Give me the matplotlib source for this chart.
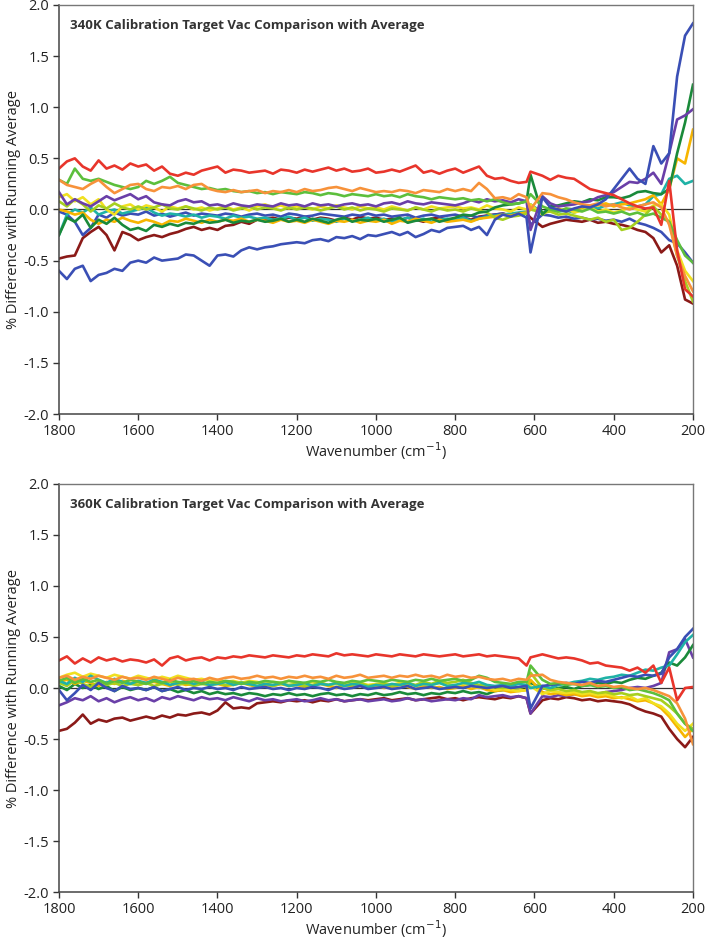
import numpy as np
import matplotlib
matplotlib.use("Agg")
import matplotlib.pyplot as plt

# wavenumber sampling (cm^-1)
wavenumber = np.r_[np.arange(1800, 619, -20), [610], np.arange(580, 199, -20)]

# ---------------- 340K panel ----------------
t340_red = [0.40, 0.47, 0.50, 0.42, 0.38, 0.48, 0.40, 0.43, 0.39, 0.45,
            0.42, 0.44, 0.38, 0.42, 0.35, 0.33, 0.36, 0.34, 0.38, 0.40,
            0.42, 0.36, 0.39, 0.38, 0.36, 0.37, 0.38, 0.35, 0.39, 0.38,
            0.36, 0.39, 0.37, 0.39, 0.41, 0.38, 0.40, 0.37, 0.38, 0.40,
            0.36, 0.37, 0.39, 0.37, 0.40, 0.43, 0.36, 0.38, 0.35, 0.38,
            0.40, 0.36, 0.39, 0.42, 0.33, 0.30, 0.31, 0.28, 0.26, 0.27,
            0.37, 0.33, 0.29, 0.33, 0.31, 0.30, 0.25, 0.20, 0.18, 0.16,
            0.14, 0.10, 0.06, 0.03, 0.01, 0.02, -0.15, 0.28, -0.40, -0.78,
            -0.85]
t340_orange = [0.29, 0.24, 0.22, 0.20, 0.25, 0.29, 0.22, 0.16, 0.20, 0.24,
               0.25, 0.20, 0.18, 0.22, 0.21, 0.23, 0.20, 0.24, 0.25, 0.20,
               0.18, 0.17, 0.19, 0.17, 0.18, 0.19, 0.16, 0.18, 0.17, 0.19,
               0.17, 0.20, 0.18, 0.19, 0.21, 0.22, 0.20, 0.18, 0.21, 0.19,
               0.17, 0.18, 0.17, 0.19, 0.18, 0.16, 0.19, 0.18, 0.17, 0.20,
               0.18, 0.20, 0.18, 0.26, 0.20, 0.11, 0.12, 0.10, 0.15, 0.12,
               0.00, 0.16, 0.15, 0.12, 0.10, 0.07, 0.05, 0.04, 0.06, 0.03,
               0.05, 0.02, 0.00, 0.03, 0.05, 0.07, 0.02, -0.15, -0.45, -0.65,
               -0.80]
t340_lgreen = [0.29, 0.25, 0.40, 0.30, 0.28, 0.30, 0.27, 0.24, 0.22, 0.20,
               0.22, 0.28, 0.25, 0.28, 0.32, 0.26, 0.24, 0.22, 0.20, 0.21,
               0.19, 0.20, 0.18, 0.17, 0.18, 0.16, 0.17, 0.15, 0.17, 0.16,
               0.15, 0.17, 0.16, 0.14, 0.16, 0.15, 0.13, 0.15, 0.14, 0.13,
               0.15, 0.13, 0.14, 0.12, 0.15, 0.13, 0.12, 0.10, 0.12, 0.11,
               0.10, 0.11, 0.09, 0.10, 0.08, 0.10, 0.07, 0.05, 0.06, 0.08,
               0.15, 0.03, 0.00, -0.02, 0.01, 0.00, -0.02, 0.01, -0.03, -0.02,
               -0.04, -0.02, -0.05, -0.03, -0.06, -0.04, -0.08, -0.12, -0.30, -0.45,
               -0.52]
t340_purple = [0.17, 0.05, 0.10, 0.06, 0.03, 0.08, 0.13, 0.09, 0.12, 0.15,
               0.10, 0.13, 0.07, 0.05, 0.04, 0.08, 0.10, 0.07, 0.08, 0.04,
               0.05, 0.03, 0.06, 0.04, 0.03, 0.05, 0.04, 0.03, 0.06, 0.04,
               0.05, 0.03, 0.06, 0.04, 0.05, 0.03, 0.05, 0.06, 0.04, 0.05,
               0.03, 0.06, 0.07, 0.05, 0.08, 0.06, 0.05, 0.07, 0.06, 0.05,
               0.04, 0.06, 0.09, 0.07, 0.10, 0.08, 0.09, 0.07, 0.10, 0.08,
               -0.20, 0.13, 0.06, 0.03, 0.04, 0.05, 0.07, 0.08, 0.12, 0.14,
               0.17, 0.22, 0.27, 0.26, 0.30, 0.36, 0.25, 0.55, 0.88, 0.92,
               0.98]
t340_dgreen = [-0.25, -0.08, -0.12, -0.05, -0.18, -0.10, -0.14, -0.08, -0.15, -0.20,
               -0.18, -0.21, -0.15, -0.17, -0.14, -0.16, -0.13, -0.14, -0.11, -0.13,
               -0.12, -0.10, -0.13, -0.11, -0.12, -0.10, -0.12, -0.11, -0.09, -0.12,
               -0.10, -0.12, -0.09, -0.11, -0.13, -0.10, -0.08, -0.12, -0.10, -0.11,
               -0.09, -0.12, -0.10, -0.08, -0.13, -0.11, -0.10, -0.09, -0.12, -0.10,
               -0.08, -0.05, -0.06, -0.03, -0.02, 0.02, 0.04, 0.05, 0.06, 0.08,
               0.34, -0.05, 0.03, 0.04, 0.06, 0.08, 0.07, 0.10, 0.09, 0.12,
               0.12, 0.11, 0.13, 0.17, 0.18, 0.16, 0.15, 0.20, 0.55, 0.85,
               1.22]
t340_blue_a = [-0.60, -0.68, -0.58, -0.55, -0.70, -0.64, -0.62, -0.58, -0.60, -0.52,
               -0.50, -0.52, -0.47, -0.50, -0.49, -0.48, -0.44, -0.45, -0.50, -0.55,
               -0.45, -0.44, -0.46, -0.40, -0.37, -0.39, -0.37, -0.36, -0.34, -0.33,
               -0.32, -0.33, -0.30, -0.29, -0.31, -0.27, -0.28, -0.26, -0.29, -0.25,
               -0.26, -0.24, -0.22, -0.25, -0.22, -0.27, -0.24, -0.20, -0.22, -0.18,
               -0.17, -0.16, -0.20, -0.17, -0.25, -0.10, -0.05, -0.07, -0.04, -0.08,
               -0.42, 0.12, 0.02, 0.00, -0.02, 0.01, 0.03, 0.02, 0.05, 0.10,
               0.20, 0.30, 0.40, 0.30, 0.25, 0.62, 0.45, 0.55, 1.30, 1.70,
               1.82]
t340_blue_b = [-0.02, -0.05, -0.12, -0.25, -0.18, -0.05, -0.08, -0.03, -0.06, -0.04,
               -0.05, -0.02, -0.06, -0.04, -0.07, -0.05, -0.03, -0.06, -0.04, -0.05,
               -0.06, -0.04, -0.05, -0.07, -0.05, -0.04, -0.06, -0.05, -0.07, -0.04,
               -0.05, -0.07, -0.06, -0.04, -0.05, -0.06, -0.07, -0.05, -0.06, -0.04,
               -0.06, -0.05, -0.07, -0.06, -0.05, -0.08, -0.06, -0.05, -0.07, -0.06,
               -0.05, -0.07, -0.06, -0.08, -0.06, -0.05, -0.04, -0.06, -0.05, -0.03,
               -0.15, -0.05, -0.06, -0.08, -0.07, -0.09, -0.08, -0.10, -0.09, -0.11,
               -0.10, -0.12, -0.09, -0.13, -0.15, -0.18, -0.22, -0.30, -0.33, -0.42,
               -0.52]
t340_maroon = [-0.48, -0.46, -0.45, -0.28, -0.22, -0.17, -0.25, -0.40, -0.22, -0.25,
               -0.30, -0.27, -0.25, -0.27, -0.24, -0.22, -0.19, -0.17, -0.20, -0.18,
               -0.20, -0.16, -0.15, -0.12, -0.14, -0.10, -0.09, -0.08, -0.10, -0.08,
               -0.09, -0.07, -0.10, -0.08, -0.09, -0.11, -0.08, -0.10, -0.07, -0.09,
               -0.08, -0.10, -0.09, -0.11, -0.08, -0.10, -0.12, -0.09, -0.08, -0.10,
               -0.09, -0.08, -0.10, -0.07, -0.06, -0.05, -0.04, -0.06, -0.05, -0.04,
               -0.08, -0.17, -0.14, -0.12, -0.10, -0.11, -0.12, -0.10, -0.13, -0.12,
               -0.14, -0.15, -0.17, -0.20, -0.22, -0.28, -0.42, -0.35, -0.55, -0.88,
               -0.92]
t340_yellow = [0.12, 0.15, 0.08, 0.12, 0.05, 0.10, 0.00, -0.05, 0.03, 0.05,
               0.00, 0.04, 0.02, -0.02, 0.03, 0.01, 0.03, 0.00, 0.02, -0.01,
               0.01, 0.03, 0.00, 0.02, -0.01, 0.03, 0.05, 0.02, 0.04, 0.01,
               0.03, 0.02, 0.00, 0.03, 0.01, 0.04, 0.02, 0.00, 0.03, 0.01,
               0.02, 0.00, 0.03, 0.01, -0.01, 0.02, 0.00, 0.03, 0.01, 0.02,
               0.03, 0.01, 0.02, 0.00, 0.04, 0.01, 0.00, -0.02, 0.02, 0.00,
               0.05, -0.05, 0.00, -0.02, 0.01, -0.03, -0.01, 0.02, -0.02, 0.00,
               -0.03, -0.01, 0.02, 0.00, -0.02, 0.04, 0.05, -0.05, -0.40, -0.60,
               -0.70]
t340_gold = [0.00, -0.02, -0.05, -0.03, -0.10, -0.14, -0.10, -0.12, -0.08, -0.11,
             -0.13, -0.10, -0.12, -0.15, -0.11, -0.12, -0.09, -0.11, -0.13, -0.10,
             -0.12, -0.10, -0.11, -0.09, -0.12, -0.10, -0.11, -0.13, -0.10, -0.12,
             -0.11, -0.13, -0.10, -0.12, -0.14, -0.11, -0.12, -0.10, -0.13, -0.11,
             -0.12, -0.10, -0.14, -0.11, -0.12, -0.09, -0.11, -0.13, -0.10, -0.12,
             -0.11, -0.10, -0.12, -0.09, -0.08, -0.07, -0.05, -0.06, -0.04, -0.03,
             0.02, -0.04, 0.00, 0.01, -0.02, 0.00, 0.02, 0.03, 0.04, 0.06,
             0.03, 0.05, 0.06, 0.08, 0.10, 0.14, 0.05, 0.20, 0.50, 0.45,
             0.78]
t340_teal = [-0.25, -0.05, 0.00, -0.03, 0.02, -0.05, -0.02, 0.00, -0.04, -0.02,
             0.00, 0.02, -0.03, -0.06, -0.04, -0.05, -0.07, -0.05, -0.08, -0.06,
             -0.07, -0.09, -0.06, -0.08, -0.07, -0.09, -0.08, -0.10, -0.09, -0.07,
             -0.10, -0.08, -0.11, -0.09, -0.10, -0.12, -0.09, -0.11, -0.10, -0.08,
             -0.11, -0.09, -0.12, -0.10, -0.08, -0.11, -0.09, -0.12, -0.10, -0.09,
             -0.10, -0.08, -0.11, -0.09, -0.07, -0.06, -0.05, -0.04, -0.03, -0.02,
             0.05, -0.03, 0.00, -0.02, -0.01, -0.03, 0.00, 0.02, 0.01, 0.04,
             0.05, 0.07, 0.04, 0.03, 0.05, 0.13, 0.15, 0.30, 0.33, 0.25,
             0.28]
t340_ygreen = [0.08, 0.03, 0.10, 0.05, -0.02, 0.04, 0.01, 0.06, 0.02, 0.00,
               0.03, 0.00, 0.02, 0.05, 0.01, 0.00, 0.03, 0.01, -0.01, 0.02,
               0.00, 0.02, -0.01, 0.01, 0.03, 0.00, 0.02, 0.01, -0.01, 0.02,
               0.00, 0.02, 0.01, -0.01, 0.01, 0.03, 0.00, 0.02, -0.01, 0.01,
               0.00, -0.02, 0.01, 0.00, -0.01, 0.02, 0.00, -0.02, 0.01, -0.01,
               0.00, -0.02, 0.01, -0.01, -0.03, -0.08, -0.10, -0.07, -0.06, -0.04,
               0.00, -0.03, -0.02, -0.05, -0.04, -0.06, -0.08, -0.10, -0.08, -0.12,
               -0.10, -0.20, -0.18, -0.12, -0.05, 0.03, -0.05, -0.12, -0.45, -0.70,
               -0.90]

# ---------------- 360K panel ----------------
t360_red = [0.27, 0.31, 0.24, 0.29, 0.25, 0.30, 0.27, 0.29, 0.26, 0.28,
            0.27, 0.25, 0.28, 0.22, 0.29, 0.31, 0.27, 0.29, 0.30, 0.27,
            0.30, 0.29, 0.31, 0.30, 0.32, 0.31, 0.30, 0.32, 0.31, 0.30,
            0.32, 0.31, 0.33, 0.32, 0.31, 0.34, 0.32, 0.33, 0.32, 0.31,
            0.33, 0.32, 0.31, 0.33, 0.32, 0.31, 0.33, 0.32, 0.31, 0.32,
            0.33, 0.31, 0.32, 0.33, 0.31, 0.32, 0.31, 0.30, 0.29, 0.22,
            0.30, 0.33, 0.31, 0.29, 0.30, 0.29, 0.27, 0.24, 0.25, 0.22,
            0.21, 0.20, 0.17, 0.20, 0.15, 0.22, 0.05, 0.20, -0.12, 0.00,
            0.01]
t360_maroon = [-0.42, -0.40, -0.34, -0.26, -0.35, -0.31, -0.33, -0.30, -0.29, -0.32,
               -0.30, -0.28, -0.30, -0.27, -0.29, -0.26, -0.27, -0.25, -0.24, -0.26,
               -0.22, -0.14, -0.20, -0.19, -0.20, -0.15, -0.14, -0.13, -0.14, -0.12,
               -0.13, -0.12, -0.14, -0.12, -0.13, -0.11, -0.13, -0.12, -0.11, -0.12,
               -0.11, -0.10, -0.12, -0.11, -0.10, -0.12, -0.11, -0.10, -0.09, -0.11,
               -0.10, -0.12, -0.10, -0.09, -0.10, -0.11, -0.09, -0.10, -0.08, -0.10,
               -0.25, -0.12, -0.10, -0.11, -0.09, -0.10, -0.12, -0.11, -0.13, -0.12,
               -0.13, -0.14, -0.16, -0.20, -0.23, -0.25, -0.28, -0.40, -0.50, -0.58,
               -0.48]
t360_orange = [0.10, 0.12, 0.08, 0.11, 0.09, 0.12, 0.10, 0.08, 0.11, 0.09,
               0.10, 0.08, 0.11, 0.09, 0.07, 0.10, 0.08, 0.09, 0.07, 0.10,
               0.08, 0.10, 0.11, 0.09, 0.10, 0.12, 0.10, 0.11, 0.09, 0.11,
               0.10, 0.12, 0.10, 0.11, 0.09, 0.12, 0.10, 0.11, 0.13, 0.10,
               0.11, 0.12, 0.10, 0.12, 0.11, 0.13, 0.11, 0.12, 0.10, 0.13,
               0.11, 0.12, 0.10, 0.11, 0.09, 0.08, 0.09, 0.07, 0.09, 0.08,
               0.12, 0.13, 0.08, 0.06, 0.05, 0.04, 0.03, 0.05, 0.02, 0.03,
               0.01, 0.02, 0.00, -0.01, 0.00, -0.02, -0.05, -0.08, -0.15, -0.30,
               -0.55]
t360_yellow = [0.10, 0.13, 0.15, 0.11, 0.14, 0.12, 0.10, 0.13, 0.11, 0.09,
               0.12, 0.10, 0.08, 0.11, 0.09, 0.12, 0.10, 0.08, 0.09, 0.07,
               0.08, 0.06, 0.07, 0.05, 0.07, 0.06, 0.04, 0.06, 0.05, 0.07,
               0.05, 0.04, 0.06, 0.05, 0.03, 0.05, 0.04, 0.06, 0.05, 0.03,
               0.04, 0.05, 0.03, 0.05, 0.04, 0.02, 0.04, 0.03, 0.05, 0.03,
               0.02, 0.04, 0.02, 0.00, 0.02, -0.02, -0.01, -0.02, -0.03, -0.02,
               0.02, -0.06, -0.03, -0.04, -0.05, -0.04, -0.06, -0.05, -0.07, -0.06,
               -0.08, -0.10, -0.08, -0.12, -0.10, -0.15, -0.18, -0.25, -0.35, -0.42,
               -0.35]
t360_gold = [0.06, 0.08, 0.04, 0.07, 0.05, 0.02, 0.06, 0.04, 0.07, 0.05,
             0.03, 0.05, 0.06, 0.04, 0.02, 0.05, 0.03, 0.04, 0.06, 0.03,
             0.04, 0.02, 0.03, 0.05, 0.03, 0.01, 0.03, 0.02, 0.04, 0.02,
             0.03, 0.01, 0.02, 0.04, 0.02, 0.00, 0.03, 0.01, 0.02, 0.00,
             0.02, 0.00, 0.01, 0.03, 0.01, -0.01, 0.02, 0.00, 0.01, -0.01,
             0.00, 0.02, -0.01, 0.01, -0.02, -0.03, -0.02, -0.04, -0.03, -0.02,
             0.08, -0.04, -0.06, -0.05, -0.07, -0.06, -0.08, -0.07, -0.09, -0.08,
             -0.10, -0.09, -0.11, -0.13, -0.12, -0.15, -0.20, -0.28, -0.38, -0.48,
             -0.40]
t360_lgreen = [0.07, 0.10, 0.05, 0.09, 0.06, 0.08, 0.04, 0.07, 0.05, 0.08,
               0.06, 0.04, 0.07, 0.05, 0.08, 0.06, 0.05, 0.07, 0.04, 0.06,
               0.05, 0.07, 0.06, 0.04, 0.06, 0.05, 0.07, 0.06, 0.05, 0.07,
               0.06, 0.05, 0.07, 0.06, 0.08, 0.06, 0.05, 0.07, 0.06, 0.08,
               0.07, 0.06, 0.08, 0.07, 0.06, 0.08, 0.07, 0.09, 0.07, 0.08,
               0.09, 0.07, 0.08, 0.12, 0.10, 0.06, 0.05, 0.04, 0.06, 0.06,
               0.22, 0.08, 0.04, 0.05, 0.03, 0.04, 0.02, 0.03, 0.01, 0.02,
               0.00, 0.01, -0.02, -0.01, -0.03, -0.05, -0.08, -0.12, -0.25, -0.35,
               -0.42]
t360_dgreen = [0.02, -0.02, 0.04, 0.00, 0.03, -0.01, 0.02, -0.03, 0.01, -0.02,
               0.00, -0.02, 0.01, -0.03, -0.01, -0.04, -0.02, -0.05, -0.03, -0.06,
               -0.04, -0.06, -0.05, -0.07, -0.05, -0.06, -0.08, -0.06, -0.07, -0.05,
               -0.07, -0.06, -0.08, -0.06, -0.05, -0.07, -0.06, -0.08, -0.06, -0.07,
               -0.05, -0.07, -0.06, -0.04, -0.06, -0.05, -0.07, -0.05, -0.06, -0.04,
               -0.05, -0.03, -0.05, -0.04, -0.06, -0.03, -0.02, -0.01, 0.00, 0.02,
               0.05, 0.00, -0.02, 0.00, 0.01, -0.01, 0.02, 0.03, 0.05, 0.04,
               0.06, 0.05, 0.08, 0.10, 0.09, 0.12, 0.15, 0.25, 0.22, 0.30,
               0.42]
t360_teal = [0.07, 0.04, 0.10, 0.06, 0.12, 0.08, 0.05, 0.09, 0.06, 0.04,
             0.07, 0.05, 0.08, 0.06, 0.03, 0.05, 0.07, 0.04, 0.06, 0.03,
             0.04, 0.06, 0.03, 0.05, 0.04, 0.02, 0.04, 0.03, 0.05, 0.02,
             0.03, 0.05, 0.02, 0.04, 0.03, 0.05, 0.02, 0.04, 0.03, 0.01,
             0.03, 0.02, 0.04, 0.03, 0.05, 0.02, 0.04, 0.03, 0.05, 0.02,
             0.03, 0.05, 0.04, 0.06, 0.03, 0.02, 0.03, 0.02, 0.04, 0.03,
             0.00, 0.02, 0.00, 0.03, 0.04, 0.06, 0.07, 0.09, 0.08, 0.10,
             0.11, 0.13, 0.12, 0.15, 0.18, 0.17, 0.20, 0.22, 0.33, 0.45,
             0.52]
t360_blue = [-0.02, -0.12, -0.05, 0.03, -0.02, 0.05, 0.00, -0.03, 0.02, -0.01,
             0.00, -0.02, 0.01, -0.03, -0.01, 0.01, -0.02, 0.00, -0.01, 0.01,
             -0.01, 0.00, -0.02, 0.01, -0.01, 0.00, 0.01, -0.01, 0.00, -0.02,
             0.00, -0.01, 0.01, 0.00, -0.02, 0.01, -0.01, 0.00, 0.02, -0.01,
             0.00, 0.01, -0.01, 0.00, 0.02, -0.01, 0.00, 0.01, -0.01, 0.00,
             0.01, 0.00, 0.02, 0.01, 0.00, 0.01, 0.02, 0.00, 0.01, 0.02,
             -0.20, 0.02, 0.03, 0.04, 0.05, 0.04, 0.06, 0.05, 0.07, 0.06,
             0.08, 0.10, 0.12, 0.11, 0.13, 0.12, 0.14, 0.30, 0.38, 0.50,
             0.58]
t360_purple = [-0.17, -0.14, -0.10, -0.12, -0.08, -0.13, -0.10, -0.14, -0.11, -0.09,
               -0.12, -0.10, -0.13, -0.09, -0.11, -0.08, -0.10, -0.12, -0.09, -0.11,
               -0.10, -0.12, -0.09, -0.11, -0.13, -0.10, -0.12, -0.11, -0.13, -0.12,
               -0.11, -0.13, -0.12, -0.10, -0.12, -0.11, -0.13, -0.12, -0.11, -0.13,
               -0.12, -0.11, -0.13, -0.12, -0.10, -0.12, -0.11, -0.13, -0.12, -0.11,
               -0.12, -0.10, -0.11, -0.07, -0.09, -0.08, -0.07, -0.09, -0.08, -0.10,
               -0.25, -0.08, -0.09, -0.07, -0.08, -0.06, -0.07, -0.05, -0.06, -0.04,
               -0.03, -0.02, 0.00, 0.01, 0.00, 0.02, 0.05, 0.35, 0.38, 0.48,
               0.30]
t360_ygreen = [0.05, 0.02, 0.08, 0.04, 0.01, 0.06, 0.03, 0.05, 0.02, 0.04,
               0.03, 0.05, 0.02, 0.04, 0.06, 0.03, 0.05, 0.02, 0.04, 0.03,
               0.05, 0.03, 0.04, 0.06, 0.03, 0.05, 0.04, 0.02, 0.04, 0.03,
               0.04, 0.02, 0.03, 0.05, 0.03, 0.04, 0.02, 0.03, 0.05, 0.02,
               0.03, 0.04, 0.02, 0.03, 0.05, 0.03, 0.06, 0.04, 0.07, 0.05,
               0.06, 0.08, 0.05, 0.03, 0.02, 0.01, 0.00, 0.01, 0.00, 0.02,
               0.15, 0.00, -0.02, -0.01, -0.03, -0.02, -0.04, -0.03, -0.05, -0.04,
               -0.06, -0.05, -0.07, -0.06, -0.08, -0.10, -0.12, -0.18, -0.25, -0.35,
               -0.40]

colors = {
    "red": "#e8352b", "orange": "#f7923a", "lgreen": "#5cbf3c",
    "purple": "#6a3fa8", "dgreen": "#1a8a3a", "blue": "#3a4fb5",
    "maroon": "#8b1a18", "yellow": "#f0e020", "gold": "#f7b500",
    "teal": "#1fb2a6", "ygreen": "#a6cf1f",
}

panel340 = [
    (t340_maroon, "maroon"), (t340_blue_b, "blue"), (t340_teal, "teal"),
    (t340_gold, "gold"), (t340_yellow, "yellow"), (t340_ygreen, "ygreen"),
    (t340_dgreen, "dgreen"), (t340_purple, "purple"), (t340_lgreen, "lgreen"),
    (t340_orange, "orange"), (t340_blue_a, "blue"), (t340_red, "red"),
]
panel360 = [
    (t360_maroon, "maroon"), (t360_purple, "purple"), (t360_dgreen, "dgreen"),
    (t360_gold, "gold"), (t360_yellow, "yellow"), (t360_ygreen, "ygreen"),
    (t360_teal, "teal"), (t360_blue, "blue"), (t360_lgreen, "lgreen"),
    (t360_orange, "orange"), (t360_red, "red"),
]
titles = ["340K Calibration Target Vac Comparison with Average",
          "360K Calibration Target Vac Comparison with Average"]
y_ticks = [-2.0, -1.5, -1.0, -0.5, 0.0, 0.5, 1.0, 1.5, 2.0]
x_ticks = [1800, 1600, 1400, 1200, 1000, 800, 600, 400, 200]

plt.rcParams['font.family'] = ['Open Sans', 'DejaVu Sans']

fig = plt.figure(figsize=(7.09, 9.39), dpi=100)
ax_top = fig.add_axes([0.0832, 0.5591, 0.8942, 0.4356])
ax_bot = fig.add_axes([0.0832, 0.0500, 0.8942, 0.4346])

for ax, series, title in [(ax_top, panel340, titles[0]), (ax_bot, panel360, titles[1])]:
    ax.axhline(0, color="#333333", lw=0.9, zorder=1)
    for vals, cname in series:
        ax.plot(wavenumber, vals, color=colors[cname], lw=1.9, zorder=2,
                solid_joinstyle="round")
    ax.set_xlim(1800, 200)
    ax.set_ylim(-2.0, 2.0)
    ax.set_yticks(y_ticks)
    ax.set_yticklabels([f"{v:.1f}" for v in y_ticks])
    ax.set_xticks(x_ticks)
    ax.tick_params(axis="both", direction="out", length=4, width=1,
                   labelsize=10.5, colors="#333333", labelcolor="#222222",
                   top=False, right=False, pad=3)
    for side in ["left", "bottom"]:
        ax.spines[side].set_color("#444444")
        ax.spines[side].set_linewidth(1.1)
    for side in ["top", "right"]:
        ax.spines[side].set_color("#777777")
        ax.spines[side].set_linewidth(1.0)
    ax.set_xlabel("Wavenumber (cm$^{-1}$)", fontsize=10.5, color="#222222", labelpad=1)
    ax.set_ylabel("% Difference with Running Average", fontsize=10.5,
                  color="#222222", labelpad=2)
    ax.text(0.018, 0.965, title, transform=ax.transAxes, fontsize=9.5,
            fontweight="bold", color="#333333", ha="left", va="top")

fig.savefig("out.png", dpi=100)
